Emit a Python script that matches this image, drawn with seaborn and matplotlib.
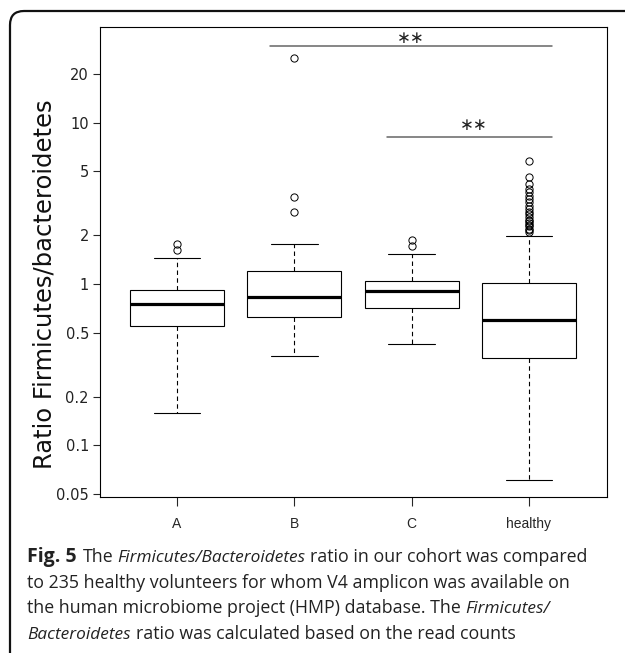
import numpy as np
import pandas as pd
import seaborn as sns
import matplotlib.pyplot as plt
from matplotlib.path import Path
from matplotlib.patches import PathPatch
from matplotlib.ticker import FixedLocator, NullLocator

# Valores (resumo de cada boxplot)
groups = ["A", "B", "C", "healthy"]
q1 = [0.548, 0.627, 0.706, 0.346]
median = [0.751, 0.834, 0.900, 0.594]
q3 = [0.918, 1.21, 1.05, 1.01]
whisker_low = [0.159, 0.356, 0.426, 0.0606]
whisker_high = [1.45, 1.78, 1.53, 1.99]

outliers_A = [1.63, 1.78]
outliers_B = [2.79, 3.45, 25.1]
outliers_C = [1.72, 1.88]
outliers_healthy = [5.8, 4.6, 4.15, 3.9, 3.7, 3.5, 3.35, 3.2, 3.05, 2.9, 2.8,
                    2.7, 2.6, 2.5, 2.45, 2.4, 2.33, 2.27, 2.2, 2.15, 2.1]
outliers = [outliers_A, outliers_B, outliers_C, outliers_healthy]

yticks = [0.05, 0.1, 0.2, 0.5, 1, 2, 5, 10, 20]
ytick_labels = ["0.05", "0.1", "0.2", "0.5", "1", "2", "5", "10", "20"]

# barras de significância
sig_start = [0.79, 1.79]
sig_end = [3.2, 3.2]
sig_y = [29.6, 8.19]
sig_text_y = [33.4, 9.66]
sig_text_x = [1.99, 2.53]

# Monta dados longos que reproduzem os quartis/whiskers/outliers
rows = []
for g, a, m, b, lo, hi, out in zip(groups, q1, median, q3, whisker_low, whisker_high, outliers):
    k = len(out) + 1
    vals = [lo] + [a] * k + [m] * k + [b] * k + [hi] + list(out)
    rows += [(g, v) for v in vals]
df = pd.DataFrame(rows, columns=["group", "ratio"])

sns.set_style("ticks")
plt.rcParams["font.family"] = ["DejaVu Sans"]

W, H = 625, 653
fig = plt.figure(figsize=(6.25, 6.53), dpi=100)
ax = fig.add_axes([0.16, 0.2389, 0.8112, 0.7198])

sns.boxplot(data=df, x="group", y="ratio", order=groups, color="white", saturation=1,
            linecolor="black", linewidth=0.8, width=0.8, whis=1.5, fliersize=5.2,
            medianprops={"linewidth": 2.3},
            whiskerprops={"linestyle": (0, (4, 3))},
            flierprops={"marker": "o", "markerfacecolor": "none", "markeredgewidth": 0.7},
            ax=ax)

ax.set_yscale("log")
ax.set_ylim(0.04788, 39.1)
ax.set_xlim(-0.656, 3.665)
ax.yaxis.set_major_locator(FixedLocator(yticks))
ax.yaxis.set_minor_locator(NullLocator())
ax.set_yticklabels(ytick_labels)
ax.set_xlabel("")
ax.set_ylabel("")

for side in ["top", "right", "bottom", "left"]:
    ax.spines[side].set_visible(True)
    ax.spines[side].set_color("black")
    ax.spines[side].set_linewidth(0.8)

ax.tick_params(axis="y", length=5, width=0.8, pad=3, labelsize=10.5,
               labelcolor="#222222", labelfontfamily="DejaVu Sans")
ax.tick_params(axis="x", length=6.5, width=0.8, pad=8, labelsize=10,
               labelfontfamily="Liberation Sans")

for x0, x1, y, tx, ty in zip(sig_start, sig_end, sig_y, sig_text_x, sig_text_y):
    ax.plot([x0, x1], [y, y], color="#666666", lw=1.1)
    ax.text(tx, ty, "∗∗", ha="center", va="center", fontsize=12, color="#222222")

fig.text(0.0712, 1 - 284 / H, "Ratio Firmicutes/bacteroidetes", rotation=90,
         ha="center", va="center", fontsize=17.5, color="#111111")

# moldura arredondada (só topo e lado esquerdo aparecem)
r = 14
verts = [(10 / W, 0.0), (10 / W, 1 - (11 + r) / H), (10 / W, 1 - 11 / H),
         ((10 + r) / W, 1 - 11 / H), (1.0, 1 - 11 / H)]
codes = [Path.MOVETO, Path.LINETO, Path.CURVE3, Path.CURVE3, Path.LINETO]
fig.patches.append(PathPatch(Path(verts, codes), transform=fig.transFigure,
                             fill=False, lw=1.6, edgecolor="#111111"))

# legenda da figura: pedaços (texto, estilo, peso, espaço em px depois)
size_regular, size_italic, size_bold = 12.8, 12.4, 14.0
caption = [
    [("Fig. 5", "normal", "bold", 6), ("The", "normal", "normal", 4),
     ("Firmicutes/Bacteroidetes", "italic", "normal", 5),
     ("ratio in our cohort was compared", "normal", "normal", 0)],
    [("to 235 healthy volunteers for whom V4 amplicon was available on", "normal", "normal", 0)],
    [("the human microbiome project (HMP) database. The", "normal", "normal", 5),
     ("Firmicutes/", "italic", "normal", 0)],
    [("Bacteroidetes", "italic", "normal", 5),
     ("ratio was calculated based on the read counts", "normal", "normal", 0)],
]
baselines = [562, 588, 613, 639]

renderer = fig.canvas.get_renderer()
for pieces, yb in zip(caption, baselines):
    x = 27
    for txt, style, weight, gap in pieces:
        size = size_italic if style == "italic" else (size_bold if weight == "bold" else size_regular)
        t = fig.text(x / W, 1 - yb / H, txt, ha="left", va="baseline", fontsize=size,
                     family="Open Sans", style=style, weight=weight, color="#222222")
        bb = t.get_window_extent(renderer)
        x = bb.x1 + gap

fig.savefig("out.png", dpi=100)
